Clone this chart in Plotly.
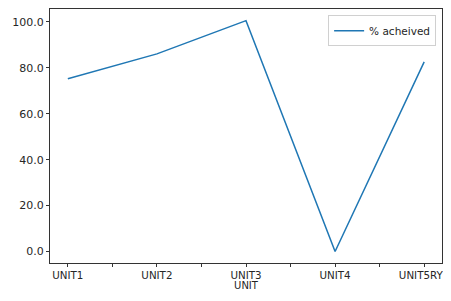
import plotly.graph_objects as go

units = ["UNIT1", "UNIT2", "UNIT3", "UNIT4", "UNIT5RYK"]
pct_achieved = [75.3, 86.1, 100.6, 0.0, 82.6]
y_ticks = [0, 20, 40, 60, 80, 100]

xpos = list(range(len(units)))
tickvals = [i * 0.5 for i in range(2 * len(units) - 1)]
ticktext = [units[int(v)] if v == int(v) else "" for v in tickvals]

fig = go.Figure()
fig.add_trace(go.Scatter(x=xpos, y=pct_achieved, mode="lines", name="% acheived",
                         line=dict(color="#1f77b4", width=1.5)))

axis_common = dict(showline=True, linecolor="#333333", linewidth=1, mirror=True,
                   ticks="outside", ticklen=3, tickcolor="#333333", showgrid=False,
                   zeroline=False)

# page body has a default 8px margin; height kept within the window to avoid a scrollbar
fig.update_layout(
    width=443, height=283,
    margin=dict(l=42, r=9, t=1, b=28, autoexpand=False),
    paper_bgcolor="white", plot_bgcolor="white",
    font=dict(family="DejaVu Sans", size=11, color="#262626"),
    xaxis=dict(range=[-0.2, 4.2], tickvals=tickvals, ticktext=ticktext,
               ticklabeloverflow="allow", tickfont=dict(size=10.3, color="#262626"),
               title=dict(text="UNIT", standoff=0, font=dict(size=10)), **axis_common),
    yaxis=dict(range=[-5.03, 105.66], tickvals=y_ticks, tickformat=".1f",
               tickfont=dict(size=11, color="#262626"), **axis_common),
    legend=dict(x=0.985, y=0.975, xanchor="right", yanchor="top",
                bordercolor="#d0d0d0", borderwidth=1, bgcolor="white",
                font=dict(size=10.5)),
    showlegend=True,
)

fig.write_html("out.html")
